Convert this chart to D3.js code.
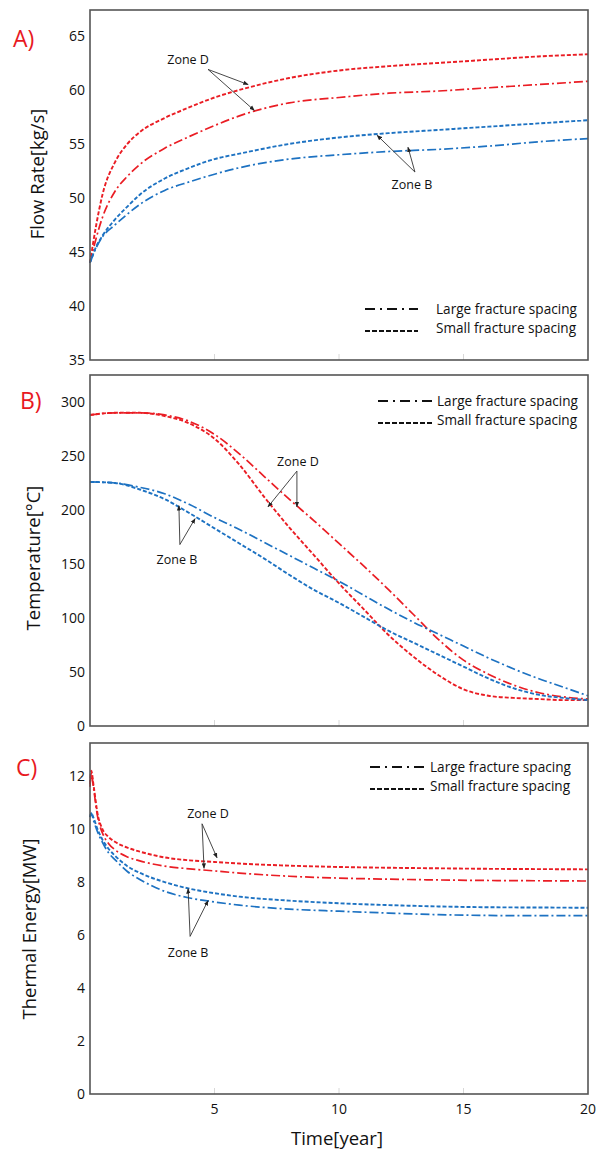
<!DOCTYPE html>
<meta charset="utf-8">
<style>
body { margin: 0; background: #fff; }
svg { display: block; font-family: "Open Sans", "DejaVu Sans", sans-serif; }
.tick-label { font-size: 14px; fill: #111; }
.axis-title { font-size: 18.5px; fill: #111; }
.legend-text { font-size: 13.6px; fill: #111; }
.zone { font-size: 12.5px; fill: #111; }
.panel-tag { font-size: 23px; fill: #e8191f; }
</style>
<body>
<script src="https://cdn.jsdelivr.net/npm/d3@7"></script>
<script>
// ---- data ----
const timeA = [0, 0.25, 0.5, 1, 1.5, 2, 3, 4, 5, 6, 8, 10, 12, 14, 16, 18, 20];
const flowSmallD = [44, 47.5, 50.3, 53.3, 55, 56.1, 57.4, 58.4, 59.3, 60, 61.1, 61.8, 62.2, 62.5, 62.8, 63.1, 63.3];
const flowLargeD = [44, 46.3, 48.2, 50.6, 52.0, 53.1, 54.6, 55.7, 56.7, 57.6, 58.8, 59.3, 59.7, 59.9, 60.2, 60.5, 60.8];
const flowSmallB = [44, 45.5, 46.5, 48, 49.2, 50.3, 51.8, 52.8, 53.6, 54.1, 55, 55.6, 56, 56.3, 56.6, 56.9, 57.2];
const flowLargeB = [44, 45.4, 46.4, 47.5, 48.5, 49.4, 50.7, 51.5, 52.2, 52.8, 53.6, 54, 54.3, 54.5, 54.8, 55.2, 55.5];

const timeB = d3.range(0, 21);
const tempSmallD = [288, 290, 290, 287, 280, 266, 242, 212, 184, 158, 132, 108, 84, 64, 47, 34, 28, 26, 25, 24, 24];
const tempLargeD = [288, 290, 290, 288, 282, 270, 252, 231, 210, 190, 169, 148, 126, 103, 80, 61, 48, 38, 31, 27, 25];
const tempSmallB = [226, 225, 219, 210, 197, 183, 169, 155, 140, 126, 114, 101, 88, 77, 66, 55, 44, 35, 29, 26, 24];
const tempLargeB = [226, 225, 221, 215, 205, 193, 182, 170, 158, 146, 134, 121, 108, 96, 85, 74, 63, 53, 44, 36, 28];

const timeC = [0, 0.05, 0.15, 0.3, 0.5, 0.75, 1, 1.5, 2, 3, 4, 5, 6, 8, 10, 12, 14, 16, 18, 20];
const energySmallD = [11.7, 12.2, 11.6, 10.6, 10.0, 9.7, 9.52, 9.3, 9.15, 8.93, 8.82, 8.76, 8.7, 8.62, 8.57, 8.54, 8.52, 8.5, 8.49, 8.48];
const energyLargeD = [11.6, 12.1, 11.5, 10.5, 9.85, 9.45, 9.22, 8.95, 8.8, 8.6, 8.5, 8.42, 8.34, 8.22, 8.15, 8.11, 8.08, 8.06, 8.05, 8.04];
const energySmallB = [10.45, 10.6, 10.4, 10.0, 9.6, 9.25, 9.0, 8.6, 8.35, 8.0, 7.75, 7.58, 7.45, 7.3, 7.2, 7.13, 7.08, 7.05, 7.04, 7.03];
const energyLargeB = [10.45, 10.6, 10.3, 9.9, 9.5, 9.1, 8.85, 8.4, 8.1, 7.65, 7.4, 7.25, 7.13, 6.98, 6.9, 6.83, 6.77, 6.74, 6.73, 6.73];

const xTicks = [5, 10, 15, 20];
const ticksA = [35, 40, 45, 50, 55, 60, 65];
const ticksB = [0, 50, 100, 150, 200, 250, 300];
const ticksC = [0, 2, 4, 6, 8, 10, 12];

// annotations in data units: label pos, arrow base, arrow tips
const notesA = [
  {text: "Zone D", at: [3.94, 62.8], base: [4.74, 61.9], tips: [[6.35, 60.5], [6.6, 58.1]]},
  {text: "Zone B", at: [12.93, 51.2], base: [13.05, 52.4], tips: [[11.53, 55.8], [12.77, 54.7]]}
];
const notesB = [
  {text: "Zone D", at: [8.35, 245], base: [8.31, 236], tips: [[7.15, 203], [8.31, 203]]},
  {text: "Zone B", at: [3.49, 154], base: [3.61, 168], tips: [[3.57, 204], [4.22, 192]]}
];
const notesC = [
  {text: "Zone D", at: [4.74, 10.6], base: [4.5, 10.2], tips: [[4.58, 8.52], [5.1, 8.92]]},
  {text: "Zone B", at: [3.94, 5.32], base: [4.02, 5.95], tips: [[3.94, 7.75], [4.74, 7.3]]}
];

const RED = "#ea1d24", BLUE = "#1d72c2";
const DASH = "4,2", DASHDOT = "9,3,2,3";

const W = 601, H = 1151;
const svg = d3.select("body").append("svg").attr("width", W).attr("height", H);

const defs = svg.append("defs");
defs.append("marker").attr("id", "head")
  .attr("viewBox", "0 0 10 10").attr("refX", 9).attr("refY", 5)
  .attr("markerWidth", 6).attr("markerHeight", 6).attr("orient", "auto")
  .append("path").attr("d", "M0,1L10,5L0,9Z").attr("fill", "#222");

const x = d3.scaleLinear().domain([0, 20]).range([90, 588]);

const panels = [
  {tag: "A)", tagPos: [13, 47], top: 10, bottom: 360, ymax: 67.4, ymin: 35, ticks: ticksA,
   title: "Flow Rate[kg/s]", titlePos: [38, 174], time: timeA,
   series: [[flowSmallD, RED, DASH], [flowLargeD, RED, DASHDOT], [flowSmallB, BLUE, DASH], [flowLargeB, BLUE, DASHDOT]],
   legend: {x0: 365, x1: 418, tx: 436, y: 309}, notes: notesA},
  {tag: "B)", tagPos: [20, 409], top: 375, bottom: 726, ymax: 325, ymin: 0, ticks: ticksB,
   title: "Temperature[°C]", titlePos: [34, 558], time: timeB,
   series: [[tempSmallD, RED, DASH], [tempLargeD, RED, DASHDOT], [tempSmallB, BLUE, DASH], [tempLargeB, BLUE, DASHDOT]],
   legend: {x0: 378, x1: 432, tx: 437, y: 401}, notes: notesB},
  {tag: "C)", tagPos: [16, 776], top: 743, bottom: 1094, ymax: 13.25, ymin: 0, ticks: ticksC,
   title: "Thermal Energy[MW]", titlePos: [30, 929], time: timeC,
   series: [[energySmallD, RED, DASH], [energyLargeD, RED, DASHDOT], [energySmallB, BLUE, DASH], [energyLargeB, BLUE, DASHDOT]],
   legend: {x0: 370, x1: 424, tx: 430, y: 767}, notes: notesC}
];

panels.forEach((p, i) => {
  const y = d3.scaleLinear().domain([p.ymin, p.ymax]).range([p.bottom, p.top]);
  const g = svg.append("g");

  // faint inner ticks along the bottom
  g.selectAll(".minor").data([5, 10, 15]).enter().append("line")
    .attr("x1", d => x(d)).attr("x2", d => x(d))
    .attr("y1", p.bottom).attr("y2", p.bottom - 6)
    .attr("stroke", "#d8d8d8").attr("stroke-width", 1);

  // y tick labels
  g.selectAll(".yt").data(p.ticks).enter().append("text")
    .attr("class", "tick-label")
    .attr("x", 85).attr("y", d => y(d)).attr("dy", "0.35em")
    .attr("text-anchor", "end").text(d => d);

  // curves
  const line = d3.line().curve(d3.curveMonotoneX);
  p.series.forEach(([vals, col, dash]) => {
    g.append("path")
      .attr("d", line(vals.map((v, k) => [x(p.time[k]), y(v)])))
      .attr("fill", "none").attr("stroke", col)
      .attr("stroke-width", dash === DASH ? 1.9 : 1.7)
      .attr("stroke-dasharray", dash);
  });

  // frame
  g.append("rect")
    .attr("x", x(0)).attr("y", p.top)
    .attr("width", x(20) - x(0)).attr("height", p.bottom - p.top)
    .attr("fill", "none").attr("stroke", "#555").attr("stroke-width", 1.6);

  // panel tag and axis title
  g.append("text").attr("class", "panel-tag")
    .attr("x", p.tagPos[0]).attr("y", p.tagPos[1]).text(p.tag);
  g.append("text").attr("class", "axis-title")
    .attr("transform", `translate(${p.titlePos[0]},${p.titlePos[1]}) rotate(-90)`)
    .attr("text-anchor", "middle").attr("dy", "0.35em").text(p.title);

  // legend
  const L = p.legend;
  [["Large fracture spacing", DASHDOT], ["Small fracture spacing", DASH]].forEach(([t, dash], k) => {
    const ly = L.y + k * 19;
    g.append("line").attr("x1", L.x0).attr("x2", L.x1)
      .attr("y1", ly + (k ? 3 : 0)).attr("y2", ly + (k ? 3 : 0))
      .attr("stroke", "#111").attr("stroke-width", 1.8)
      .attr("stroke-dasharray", dash === DASH ? "5,2" : "10,5,2,5");
    g.append("text").attr("class", "legend-text")
      .attr("x", L.tx).attr("y", ly).attr("dy", "0.35em").text(t);
  });

  // zone annotations
  p.notes.forEach(n => {
    g.append("text").attr("class", "zone")
      .attr("x", x(n.at[0])).attr("y", y(n.at[1])).attr("dy", "0.35em")
      .attr("text-anchor", "middle").text(n.text);
    n.tips.forEach(tp => {
      g.append("line")
        .attr("x1", x(n.base[0])).attr("y1", y(n.base[1]))
        .attr("x2", x(tp[0])).attr("y2", y(tp[1]))
        .attr("stroke", "#333").attr("stroke-width", 0.9)
        .attr("marker-end", "url(#head)");
    });
  });

  // x tick labels only below the last panel
  if (i === panels.length - 1) {
    g.selectAll(".xt").data(xTicks).enter().append("text")
      .attr("class", "tick-label")
      .attr("x", d => x(d)).attr("y", 1109).attr("dy", "0.35em")
      .attr("text-anchor", "middle").text(d => d);
    g.append("text").attr("class", "axis-title")
      .attr("x", 337).attr("y", 1139).attr("dy", "0.35em")
      .attr("text-anchor", "middle").text("Time[year]");
  }
});
</script>
